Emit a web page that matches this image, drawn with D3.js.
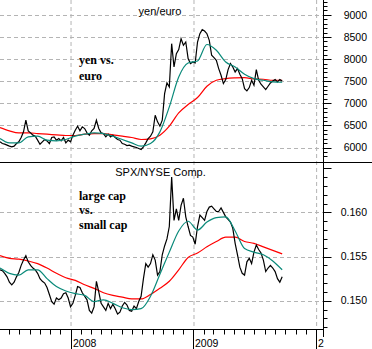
<!DOCTYPE html>
<html><head><meta charset="utf-8">
<script src="https://cdn.jsdelivr.net/npm/d3@7"></script>
<style>body{margin:0;background:#fff}svg{display:block}</style>
</head><body>
<script>
// ---- data (weekly closes from 2007-06-05; moving averages every 4 weeks) ----
const startDate = "2007-06-05";
const yenEuro = [6128,6090,6075,6053,6030,6015,6030,6090,6128,6226,6354,6617,6377,6331,6279,6256,6166,6075,6128,6181,
  6150,6090,6226,6241,6166,6203,6150,6226,6105,6166,6128,6279,6392,6482,6377,6467,6429,6331,6279,6377,
  6429,6617,6429,6331,6316,6241,6301,6241,6279,6226,6181,6166,6090,6075,6045,6053,6030,6015,6000,5977,
  5955,6015,6105,6203,6256,6354,6730,6580,6482,6617,7220,7461,7370,8349,7822,8123,8214,8462,8312,8387,
  8011,7898,7935,7913,8387,8575,8666,8636,8575,8425,8086,8033,7973,7785,7634,7446,7536,7762,7898,7822,
  7709,7785,7657,7558,7333,7280,7356,7521,7408,7762,7521,7431,7370,7310,7386,7461,7506,7536,7483,7536,7506];
const yenEuroFast = [6203,6105,6105,6241,6256,6166,6150,6181,6256,6301,6331,6316,6256,6181,6105,6030,6090,6354,6919,7596,
  7913,7958,8330,8199,7935,7822,7657,7558,7521,7483,7476];
const yenEuroSlow = [6452,6377,6331,6331,6316,6301,6286,6271,6271,6301,6316,6316,6286,6256,6226,6181,6196,6279,6482,6783,
  6971,7130,7386,7521,7558,7574,7581,7551,7544,7521,7521];
const spxNyse = [.1535,.1534,.1531,.1527,.1521,.1518,.1521,.1527,.1532,.1540,.1546,.1551,.1544,.1540,.1537,.1535,.1531,.1525,.1522,.1520,
  .1515,.1507,.1499,.1496,.1503,.1501,.1503,.1508,.1509,.1503,.1493,.1497,.1506,.1516,.1515,.1509,.1505,.1501,.1489,.1486,
  .1493,.1522,.1510,.1497,.1493,.1489,.1497,.1491,.1496,.1491,.1485,.1487,.1494,.1498,.1495,.1489,.1488,.1494,.1491,.1499,
  .1505,.1525,.1542,.1538,.1542,.1552,.1546,.1529,.1533,.1552,.1562,.1570,.1584,.1640,.1591,.1604,.1591,.1608,.1616,.1595,
  .1584,.1574,.1572,.1564,.1584,.1597,.1594,.1591,.1601,.1606,.1607,.1604,.1601,.1601,.1605,.1600,.1595,.1592,.1589,.1582,
  .1565,.1552,.1538,.1531,.1529,.1544,.1548,.1542,.1555,.1563,.1558,.1554,.1546,.1533,.1537,.1540,.1537,.1533,.1525,.1521,.1527];
const spxNyseFast = [.1537,.1531,.1529,.1535,.1535,.1525,.1516,.1511,.1508,.1506,.1499,.1501,.1497,.1492,.1490,.1491,.1505,.1530,.1555,.1579,
  .1590,.1580,.1589,.1594,.1595,.1579,.1559,.1555,.1552,.1545,.1535];
const spxNyseSlow = [.1551,.1548,.1547,.1545,.1542,.1537,.1531,.1526,.1523,.1518,.1514,.1509,.1506,.1504,.1502,.1502,.1507,.1514,.1522,.1535,
  .1549,.1554,.1561,.1567,.1572,.1572,.1567,.1565,.1561,.1557,.1553];
const yearLabels = ["2008","2009","2"];
const yearDates = ["2008-01-01","2009-01-01","2010-01-01"];
const topTicks = [6000,6500,7000,7500,8000,8500,9000];
const bottomTicks = [0.150,0.155,0.160];
const topTitle = "yen/euro";
const bottomTitle = "SPX/NYSE Comp.";
const topNote = ["yen vs.","euro"];
const bottomNote = ["large cap","vs.","small cap"];

// ---- layout ----
const W = 372, H = 349, axisX = 323.5, split = 162, bottomY = 329.5;
const parse = d3.utcParse("%Y-%m-%d");
const t0 = parse(startDate);
const weekDate = i => d3.utcDay.offset(t0, 7 * i);

const x = d3.scaleUtc().domain([parse("2007-06-05"), parse("2010-01-23")]).range([0, axisX]);
const yTop = d3.scaleLinear().domain([6000, 9000]).range([147.5, 14.9]);
const yBot = d3.scaleLinear().domain([0.150, 0.160]).range([300.7, 212.4]);

const svg = d3.select("body").append("svg").attr("width", W).attr("height", H)
  .style("font-family", "'Liberation Sans', Arial, sans-serif");

const defs = svg.append("defs");
defs.append("clipPath").attr("id", "cTop").append("rect").attr("x", 0).attr("y", 0).attr("width", axisX).attr("height", split);
defs.append("clipPath").attr("id", "cBot").append("rect").attr("x", 0).attr("y", split).attr("width", axisX).attr("height", bottomY - split);

const gridColor = "#b4b4b4";
// vertical grid
yearDates.forEach(d => {
  svg.append("line").attr("x1", x(parse(d)) + 0.5).attr("x2", x(parse(d)) + 0.5)
    .attr("y1", 0).attr("y2", bottomY).attr("stroke", gridColor).attr("stroke-dasharray", "4,3");
});
// horizontal grid
topTicks.forEach(v => {
  const yy = Math.round(yTop(v)) + 0.5;
  svg.append("line").attr("x1", 0).attr("x2", axisX).attr("y1", yy).attr("y2", yy)
    .attr("stroke", gridColor).attr("stroke-dasharray", "4,3");
});
bottomTicks.forEach(v => {
  const yy = Math.round(yBot(v)) + 0.5;
  svg.append("line").attr("x1", 0).attr("x2", axisX).attr("y1", yy).attr("y2", yy)
    .attr("stroke", gridColor).attr("stroke-dasharray", "4,3");
});

// lines
function drawPanel(clip, yS, raw, fast, slow) {
  const g = svg.append("g").attr("clip-path", `url(#${clip})`);
  const lineW = d3.line().x((d, i) => x(weekDate(i))).y(d => yS(d));
  const lineM = d3.line().x((d, i) => x(weekDate(i * 4))).y(d => yS(d)).curve(d3.curveMonotoneX);
  g.append("path").attr("d", lineM(slow)).attr("fill", "none").attr("stroke", "#ff0000").attr("stroke-width", 1.2);
  g.append("path").attr("d", lineW(raw)).attr("fill", "none").attr("stroke", "#000").attr("stroke-width", 1.2);
  g.append("path").attr("d", lineM(fast)).attr("fill", "none").attr("stroke", "#0a8a7a").attr("stroke-width", 1.2);
}
drawPanel("cTop", yTop, yenEuro, yenEuroFast, yenEuroSlow);
drawPanel("cBot", yBot, spxNyse, spxNyseFast, spxNyseSlow);

// titles
svg.append("text").attr("x", 160).attr("y", 15).attr("text-anchor", "middle").attr("font-size", "11px").text(topTitle);
svg.append("text").attr("x", 160.5).attr("y", 175.5).attr("text-anchor", "middle").attr("font-size", "11px").text(bottomTitle);

// notes
const noteFont = "'Liberation Serif', 'Times New Roman', serif";
[64, 80].forEach((yy, i) => svg.append("text").attr("x", 79).attr("y", yy).attr("font-family", noteFont)
  .attr("font-weight", "bold").attr("font-size", "12px").text(topNote[i]));
[199.5, 214, 228.5].forEach((yy, i) => svg.append("text").attr("x", 79).attr("y", yy).attr("font-family", noteFont)
  .attr("font-weight", "bold").attr("font-size", "12px").text(bottomNote[i]));

// panel divider
svg.append("line").attr("x1", 0).attr("x2", W).attr("y1", split + 0.5).attr("y2", split + 0.5).attr("stroke", "#000");

// right axis
svg.append("line").attr("x1", axisX).attr("x2", axisX).attr("y1", 0).attr("y2", 337).attr("stroke", "#000");
d3.range(5700, 9400, 100).forEach(v => {
  const yy = Math.round(yTop(v)) + 0.5;
  if (yy < 1 || yy > split - 2) return;
  const major = v % 500 === 0;
  svg.append("line").attr("x1", axisX).attr("x2", axisX + (major ? 8 : 4)).attr("y1", yy).attr("y2", yy).attr("stroke", "#000");
});
d3.range(147, 166, 1).forEach(k => {
  const v = k / 1000;
  const yy = Math.round(yBot(v)) + 0.5;
  if (yy < split + 2 || yy > bottomY - 1) return;
  const major = k % 5 === 0;
  svg.append("line").attr("x1", axisX).attr("x2", axisX + (major ? 8 : 4)).attr("y1", yy).attr("y2", yy).attr("stroke", "#000");
});
topTicks.forEach(v => svg.append("text").attr("x", 367).attr("y", yTop(v)).attr("dy", "0.35em")
  .attr("text-anchor", "end").attr("font-size", "10.5px").text(d3.format("d")(v)));
bottomTicks.forEach(v => svg.append("text").attr("x", 367).attr("y", yBot(v)).attr("dy", "0.35em")
  .attr("text-anchor", "end").attr("font-size", "10.5px").text(d3.format(".3f")(v)));

// bottom axis
svg.append("line").attr("x1", 0).attr("x2", axisX).attr("y1", bottomY).attr("y2", bottomY).attr("stroke", "#000");
x.ticks(d3.utcMonth.every(1)).forEach(d => {
  const xx = Math.round(x(d)) + 0.5;
  if (xx > axisX) return;
  const isYear = d.getUTCMonth() === 0;
  svg.append("line").attr("x1", xx).attr("x2", xx).attr("y1", bottomY).attr("y2", isYear ? H : bottomY + 5).attr("stroke", "#000");
});
yearDates.forEach((d, i) => svg.append("text").attr("x", Math.round(x(parse(d))) + 2).attr("y", 347)
  .attr("font-size", "10.5px").text(yearLabels[i]));
</script>
</body></html>
